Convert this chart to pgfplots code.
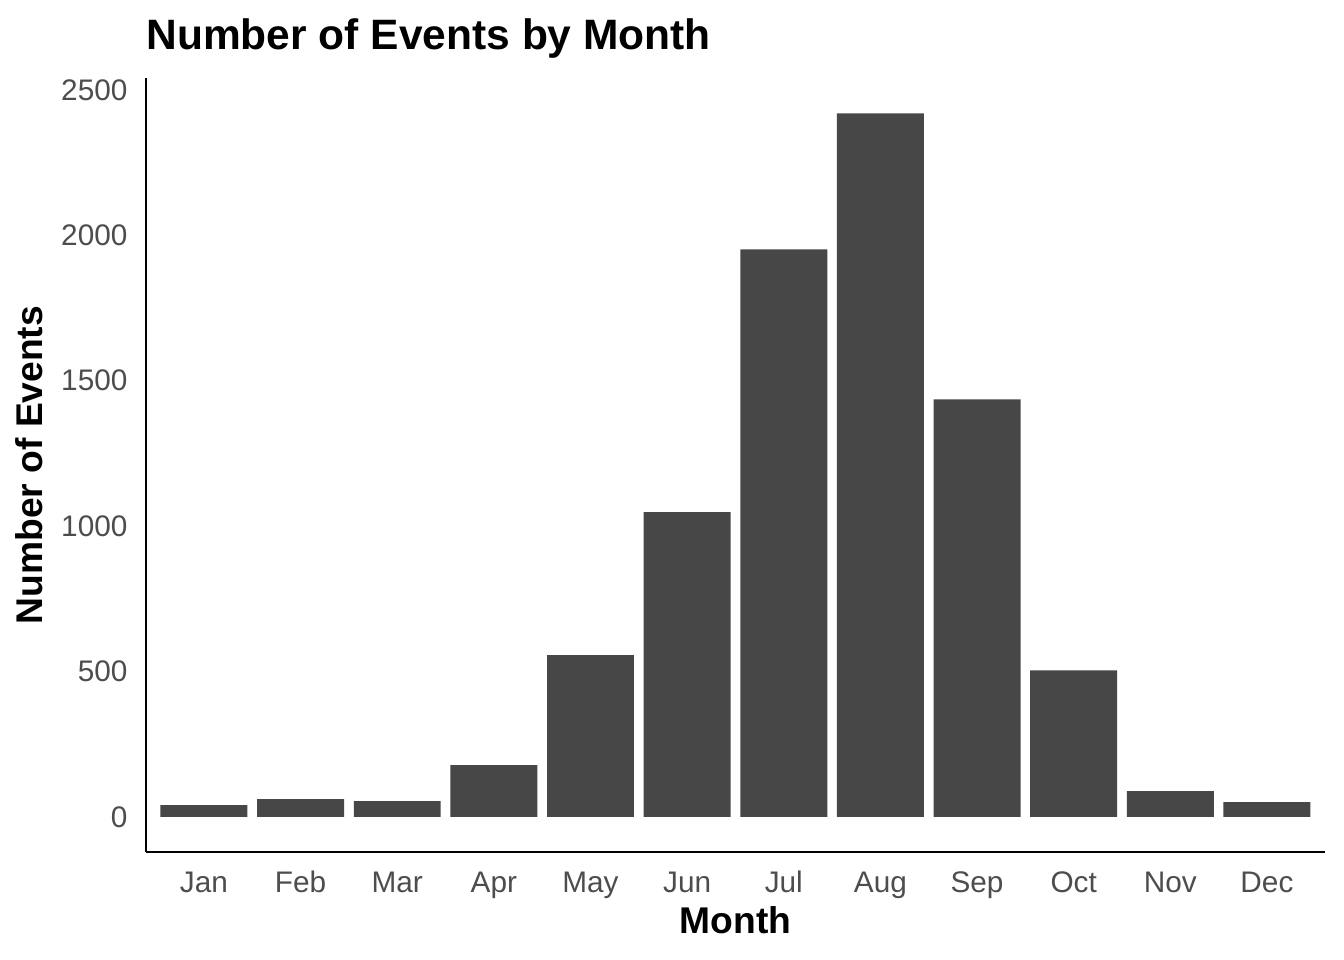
\documentclass[border=0pt]{standalone}
\usepackage{fontspec}
\setmainfont{Liberation Sans}
\usepackage{pgfplots}
\pgfplotsset{compat=1.18}
\definecolor{barfill}{HTML}{474747}
\definecolor{ticktext}{HTML}{4D4D4D}
\begin{document}
\begin{tikzpicture}
\path[use as bounding box] (0,0) rectangle (505.89pt,361.35pt);
\begin{axis}[
  at={(54.95pt,40.65pt)}, anchor=south west,
  scale only axis, width=443.76pt, height=291.3pt,
  xmin=0.4, xmax=12.6, ymin=-121, ymax=2541,
  axis x line*=bottom, axis y line*=left,
  axis line style={line width=1.1pt, -},
  major tick length=0pt,
  xtick={1,2,3,4,5,6,7,8,9,10,11,12},
  xticklabels={Jan,Feb,Mar,Apr,May,Jun,Jul,Aug,Sep,Oct,Nov,Dec},
  ytick={0,500,1000,1500,2000,2500},
  /pgf/number format/assume math mode=true,
  /pgf/number format/1000 sep={},
  ticklabel style={font=\fontsize{11.2}{13}\selectfont, text=ticktext},
  xticklabel style={anchor=base, yshift=-15.06pt},
  yticklabel style={anchor=east, inner sep=0pt, xshift=-6.78pt},
  title={Number of Events by Month},
  title style={at={(0,1.036)}, anchor=base west, inner sep=0pt, yshift=-5.65pt, font=\fontsize{16}{19}\selectfont\bfseries},
  xlabel={Month},
  xlabel style={at={(0.5,-0.1047)}, anchor=base, inner sep=0pt, font=\fontsize{14}{17}\selectfont\bfseries},
  ylabel={Number of Events},
  ylabel style={at={(-0.0874,0.5)}, anchor=base, inner sep=0pt, font=\fontsize{14}{17}\selectfont\bfseries},
]
\addplot[ybar, bar width=0.9, bar shift=0pt, fill=barfill, draw=none] coordinates {
  (1,40) (2,61) (3,54) (4,178) (5,556) (6,1048)
  (7,1952) (8,2420) (9,1436) (10,504) (11,88) (12,51)
};
\end{axis}
\end{tikzpicture}
\end{document}
